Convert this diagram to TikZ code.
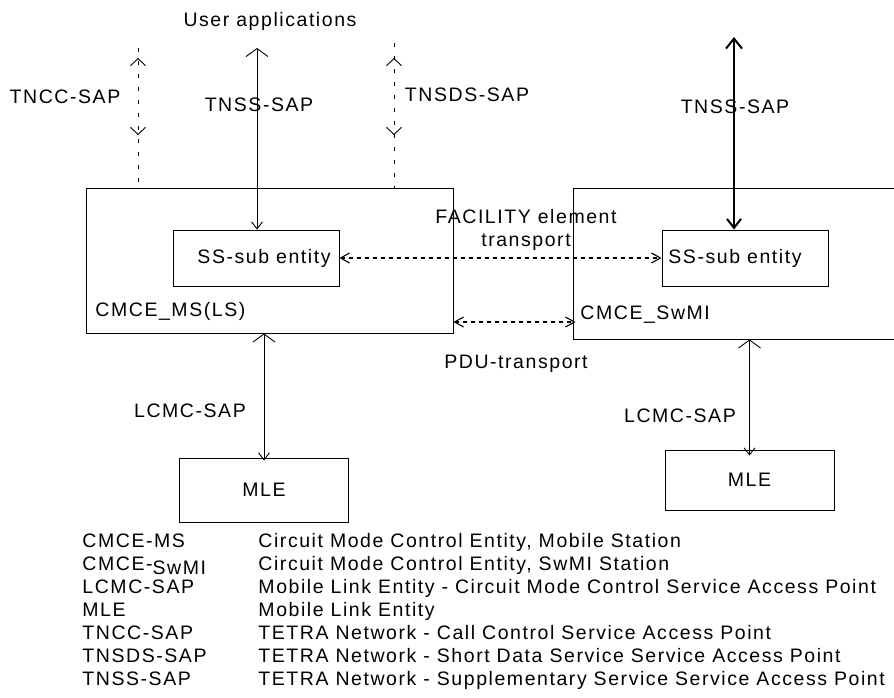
\documentclass[tikz,border=0pt]{standalone}
\usepackage{fontspec}
\setmainfont{Liberation Sans}[LetterSpace=8]
\usepackage{tikz}
\usetikzlibrary{arrows.meta,decorations.markings}

\begin{document}
\begin{tikzpicture}[x=1pt, y=-1pt, line width=0.9pt,
  every node/.style={inner sep=0pt, font=\fontsize{19.5}{23}\selectfont},
  box/.style={draw, rectangle},
  subbox/.style={draw, rectangle, minimum width=166pt, minimum height=56pt},
  sapline/.style={{Straight Barb[length=8pt,width=22pt]}-{Straight Barb[length=7pt,width=11pt]}},
  transfer/.style={{Straight Barb[length=9pt,width=10pt]}-{Straight Barb[length=9pt,width=10pt]}, dash pattern=on 4pt off 4pt, line width=1.1pt},
  optsap/.style={dash pattern=on 4pt off 9pt, postaction={decorate},
    decoration={markings,
      mark=at position #1 with {\arrowreversed{Straight Barb[length=7pt,width=15pt]}},
      mark=at position #1+77pt with {\arrow{Straight Barb[length=7pt,width=15pt]}}}}]
\clip (0,0) rectangle (894,698);

% entities
\node[box, minimum width=367pt, minimum height=145pt] (ms) at (269.5,260.5) {};
\node[subbox] (mssub) at (256,258) {\hspace*{16pt}SS-sub entity};
\node[anchor=west] (mslbl) at (95,311) {CMCE\_MS(LS)};
\node[box, minimum width=330pt, minimum height=151pt] (sw) at (738,263.5) {};
\node[subbox] (swsub) at (745,258) {SS-sub entity\hspace*{20pt}};
\node[anchor=west] (swlbl) at (580,315) {CMCE\_SwMI};
\node[box, minimum width=169pt, minimum height=64pt] (msmle) at (264,490) {MLE};
\node[box, minimum width=169pt, minimum height=60pt] (swmle) at (749.5,480) {MLE};

% free ends
\coordinate (ua) at (257,48);
\coordinate (tnccend) at (138,48);
\coordinate (tnsdsend) at (394,43);
\coordinate (swtop) at (734,37);
\coordinate (pdulevel) at (0,322);

% SAP connectors
\draw[sapline] (ua) -- (ua |- mssub.north);
\draw[{Straight Barb[length=10pt,width=16pt]}-{Straight Barb[length=9pt,width=14pt]}, line width=2pt] (swtop) -- (swtop |- swsub.north);
\draw[optsap=10pt] (tnccend) -- (tnccend |- ms.north);
\draw[optsap=15pt] (tnsdsend) -- (tnsdsend |- ms.north);
\draw[sapline, shorten >=-3pt] (msmle.north |- ms.south) -- (msmle.north);
\draw[sapline, shorten >=-6pt] (swmle.north |- sw.south) -- (swmle.north);

% peer transport
\draw[transfer] (mssub.east) -- (swsub.west);
\draw[transfer, shorten >=-3pt] (ms.east |- pdulevel) -- (sw.west |- pdulevel);

% labels
\node (ualbl) at (270,21) {User applications};
\node (tncclbl) at (65,97) {TNCC-SAP};
\node (tnsslbl) at (259,105) {TNSS-SAP};
\node (tnsdslbl) at (467,95) {TNSDS-SAP};
\node (swtnsslbl) at (735,107) {TNSS-SAP};
\node[align=center] (faclbl) at (526,229.5) {FACILITY element\\transport};
\node (pdulbl) at (516,364) {PDU-transport};
\node (lcmclbl) at (190,411) {LCMC-SAP};
\node (swlcmclbl) at (680,416) {LCMC-SAP};

% abbreviations
\node[anchor=north west] (legend) at (82,531) {\begin{tabular}{@{}p{176pt}@{}l@{}}
CMCE-MS & Circuit Mode Control Entity, Mobile Station\\
CMCE-\raisebox{-4pt}{SwMI} & Circuit Mode Control Entity, SwMI Station\\
LCMC-SAP & Mobile Link Entity - Circuit Mode Control Service Access Point\\
MLE & Mobile Link Entity\\
TNCC-SAP & TETRA Network - Call Control Service Access Point\\
TNSDS-SAP & TETRA Network - Short Data Service Service Access Point\\
TNSS-SAP & TETRA Network - Supplementary Service Service Access Point
\end{tabular}};
\end{tikzpicture}
\end{document}
